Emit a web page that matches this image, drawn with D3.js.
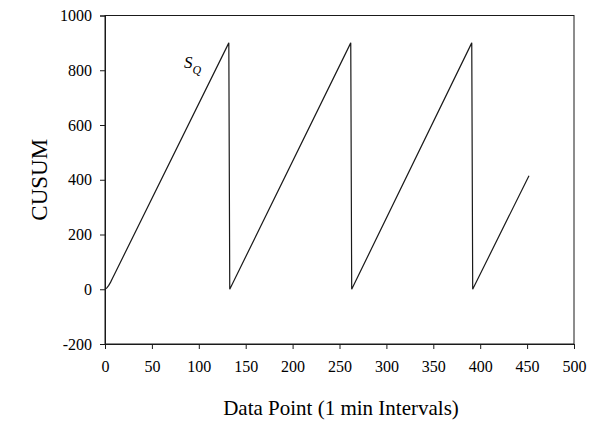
<!DOCTYPE html>
<html>
<head>
<meta charset="utf-8">
<script src="https://cdn.jsdelivr.net/npm/d3@7"></script>
<style>
html,body{margin:0;padding:0;background:#fff;}
svg text{font-family:"Liberation Serif","Times New Roman",serif;fill:#000;}
</style>
</head>
<body>
<svg id="chart" width="595" height="421"></svg>
<script>
// Data
const dataX = [0, 2, 4, 6, 8, 10, 132, 133, 262, 263, 391, 392, 452];
const dataY = [0, 5, 14, 26, 40, 54, 900, 0, 900, 0, 900, 0, 415];
const xTicks = [0, 50, 100, 150, 200, 250, 300, 350, 400, 450, 500];
const yTicks = [-200, 0, 200, 400, 600, 800, 1000];
const xTitle = "Data Point (1 min Intervals)";
const yTitle = "CUSUM";

(function () {
const svg = d3.select("#chart");
const mLeft = 105, mRight = 574, mTop = 15.5, mBottom = 344;
const x = d3.scaleLinear().domain([0, 500]).range([mLeft, mRight]);
const y = d3.scaleLinear().domain([-200, 1000]).range([mBottom, mTop]);

const stroke = "#1a1a1a";
const serif = "Liberation Serif, Times New Roman, serif";

// frame
svg.append("rect").attr("x", mLeft).attr("y", mTop)
  .attr("width", mRight - mLeft).attr("height", mBottom - mTop)
  .attr("fill", "none").attr("stroke", stroke).attr("stroke-width", 1);

const xAxis = svg.append("g").attr("transform", `translate(0,${mBottom})`)
  .call(d3.axisBottom(x).tickValues(xTicks).tickSize(5).tickPadding(12).tickFormat(d => String(d)));
const yAxis = svg.append("g").attr("transform", `translate(${mLeft},0)`)
  .call(d3.axisLeft(y).tickValues(yTicks).tickSize(5).tickPadding(8).tickFormat(d => String(d)));
[xAxis, yAxis].forEach(a => {
  a.attr("font-family", serif).attr("font-size", 16);
  a.select(".domain").attr("stroke", stroke);
  a.selectAll(".tick line").attr("stroke", stroke);
  a.selectAll(".tick text").attr("fill", "#000");
});

const pts = dataX.map((d, i) => [d, dataY[i]]);
svg.append("path").datum(pts)
  .attr("fill", "none").attr("stroke", stroke).attr("stroke-width", 1.2)
  .attr("d", d3.line().x(d => x(d[0])).y(d => y(d[1])));

// label S_Q
const lab = svg.append("text").attr("x", 184).attr("y", 68)
  .style("font-size", "17px").style("font-style", "italic");
lab.append("tspan").text("S");
lab.append("tspan").attr("dy", 6).style("font-size", "12px").text("Q");

svg.append("text").attr("x", 341).attr("y", 415)
  .attr("text-anchor", "middle").style("font-size", "21px").text(xTitle);
svg.append("text").attr("transform", `translate(47,${(mTop + mBottom) / 2}) rotate(-90)`)
  .attr("text-anchor", "middle").style("font-size", "23px").text(yTitle);
})();
</script>
</body>
</html>
